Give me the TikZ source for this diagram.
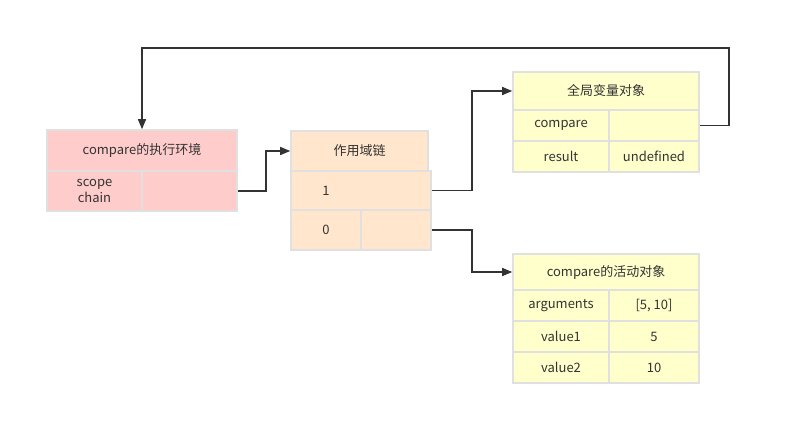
\documentclass[tikz,border=0pt]{standalone}
\usepackage{fontspec}
\setmainfont{Noto Sans CJK SC}
\usetikzlibrary{arrows.meta}
\definecolor{txt}{HTML}{333333}
\definecolor{grid}{HTML}{E0E0E0}
\definecolor{ctxfill}{HTML}{FFCCCC}
\definecolor{chainfill}{HTML}{FFE6CC}
\definecolor{objfill}{HTML}{FFFFCC}

\begin{document}
\begin{tikzpicture}[x=1pt,y=-1pt,font=\fontsize{13}{16}\selectfont,text=txt,
  cell/.style = {draw=grid, line width=1.6pt, inner sep=0pt, minimum height=#1},
  cell/.default = 31pt,
  link/.style = {draw=txt, line width=1.4pt, -{Triangle[length=10pt,width=8pt]}}]
\useasboundingbox (0,0) rectangle (791,444);
% compare的执行环境
\node[cell=41pt, fill=ctxfill, minimum width=190pt] (ctx) at (142,150.5) {compare的执行环境};
\node[cell=40pt, fill=ctxfill, minimum width=95pt, align=center] (ctx1) at (94.5,191) {scope\\chain};
\node[cell=40pt, fill=ctxfill, minimum width=95pt] (ctx2) at (189.5,191) {};
% 作用域链
\node[cell=40pt, fill=chainfill, minimum width=137pt] (chain) at (359.5,151) {作用域链};
\node[cell=39pt, fill=chainfill, minimum width=140pt] (chain1) at (361,190.5) {};
\node (chain1key) at (326,190.5) {1};
\node[cell=40pt, fill=chainfill, minimum width=70pt] (chain0) at (326,230) {0};
\node[cell=40pt, fill=chainfill, minimum width=70pt] (chain0val) at (396,230) {};
% 全局变量对象
\node[cell=38pt, fill=objfill, minimum width=186pt] (glob) at (606,91) {全局变量对象};
\node[cell, fill=objfill, minimum width=96pt] (glob1) at (561,125.5) {compare};
\node[cell, fill=objfill, minimum width=90pt] (glob1val) at (654,125.5) {};
\node[cell, fill=objfill, minimum width=96pt] (glob2) at (561,156.5) {result};
\node[cell, fill=objfill, minimum width=90pt] (glob2val) at (654,156.5) {undefined};
% compare的活动对象
\node[cell=36pt, fill=objfill, minimum width=186pt] (act) at (606,272) {compare的活动对象};
\node[cell, fill=objfill, minimum width=96pt] (act1) at (561,305.5) {arguments};
\node[cell, fill=objfill, minimum width=90pt] (act1val) at (654,305.5) {[5, 10]};
\node[cell, fill=objfill, minimum width=96pt] (act2) at (561,336.5) {value1};
\node[cell, fill=objfill, minimum width=90pt] (act2val) at (654,336.5) {5};
\node[cell, fill=objfill, minimum width=96pt] (act3) at (561,367.5) {value2};
\node[cell, fill=objfill, minimum width=90pt] (act3val) at (654,367.5) {10};
% connectors
\coordinate (top) at (729,48);
\path[link] (ctx2.east) -- ++(28,0) |- (chain.west);
\path[link] (chain1.east) -- ++(40,0) |- (glob.west);
\path[link] (chain0val.east) -- ++(40,0) |- (act.west);
\path[link] (glob1val.east) -| (top) -| (ctx.north);
\end{tikzpicture}
\end{document}
